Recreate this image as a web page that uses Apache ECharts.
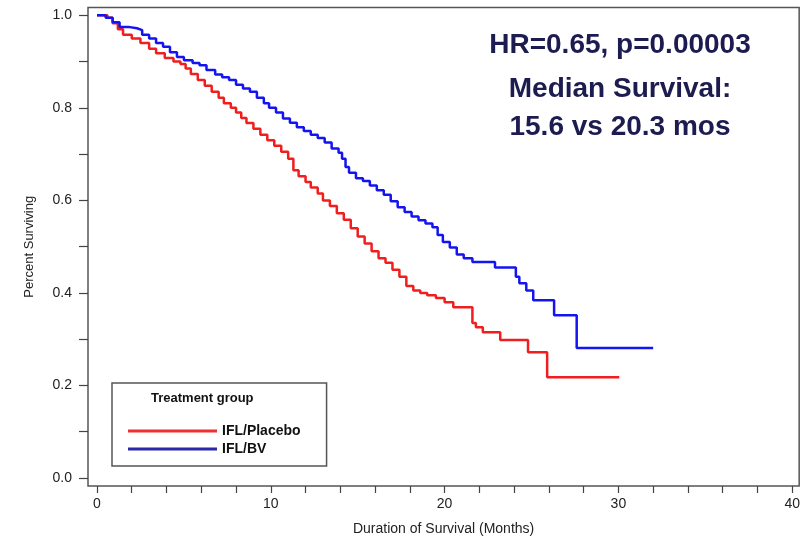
<!DOCTYPE html>
<html>
<head>
<meta charset="utf-8">
<script src="https://cdn.jsdelivr.net/npm/echarts@6/dist/echarts.min.js"></script>
<style>html,body{margin:0;padding:0;background:#fff}#c{width:803px;height:544px}</style>
</head>
<body>
<div id="c"></div>
<script>
var seriesNames = ['IFL/Placebo', 'IFL/BV'];
var xLabelValues = [0, 10, 20, 30, 40];
var xTickValues = [0, 2, 4, 6, 8, 10, 12, 14, 16, 18, 20, 22, 24, 26, 28, 30, 32, 34, 36, 38, 40];
var yLabelValues = [0.0, 0.2, 0.4, 0.6, 0.8, 1.0];
var yTickValues = [0.0, 0.1, 0.2, 0.3, 0.4, 0.5, 0.6, 0.7, 0.8, 0.9, 1.0];
var annotationLines = ['HR=0.65, p=0.00003', 'Median Survival:', '15.6 vs 20.3 mos'];
var legendTitle = 'Treatment group';

var placebo = [[0,1.0],[0.6,0.995],[0.9,0.983],[1.2,0.97],[1.5,0.958],[2.0,0.95],[2.5,0.94],[3.0,0.928],[3.4,0.918],[3.9,0.908],[4.4,0.9],[4.8,0.895],[5.1,0.885],[5.4,0.873],[5.8,0.86],[6.2,0.848],[6.6,0.835],[7.0,0.822],[7.3,0.81],[7.7,0.8],[8.0,0.79],[8.3,0.778],[8.6,0.767],[9.0,0.755],[9.4,0.742],[9.8,0.73],[10.2,0.718],[10.6,0.705],[11.0,0.69],[11.3,0.665],[11.6,0.652],[12.0,0.64],[12.3,0.628],[12.7,0.615],[13.0,0.6],[13.4,0.588],[13.8,0.572],[14.2,0.558],[14.6,0.54],[15.0,0.522],[15.4,0.507],[15.8,0.49],[16.2,0.475],[16.6,0.465],[17.0,0.45],[17.4,0.435],[17.8,0.415],[18.2,0.405],[18.6,0.4],[19.0,0.395],[19.5,0.389],[20.0,0.38],[20.5,0.369],[21.6,0.335],[21.8,0.326],[22.2,0.315],[23.2,0.298],[24.8,0.272],[25.9,0.218],[30.05,0.218]];

var bv = [[0,1.0],[0.5,0.995],[0.9,0.985],[1.3,0.975],[1.8,0.972],[2.3,0.968],[2.6,0.958],[3.0,0.95],[3.4,0.94],[3.8,0.932],[4.2,0.92],[4.6,0.91],[5.0,0.903],[5.5,0.897],[5.9,0.892],[6.3,0.882],[6.8,0.872],[7.2,0.866],[7.6,0.86],[8.0,0.85],[8.4,0.842],[8.8,0.835],[9.2,0.822],[9.6,0.81],[9.9,0.8],[10.3,0.79],[10.7,0.777],[11.1,0.768],[11.5,0.758],[11.9,0.75],[12.3,0.742],[12.7,0.735],[13.1,0.725],[13.5,0.712],[13.9,0.703],[14.1,0.69],[14.3,0.672],[14.5,0.66],[14.9,0.648],[15.3,0.642],[15.7,0.632],[16.1,0.622],[16.5,0.612],[16.9,0.598],[17.3,0.585],[17.7,0.575],[18.1,0.565],[18.5,0.557],[18.9,0.55],[19.3,0.542],[19.6,0.525],[19.9,0.51],[20.3,0.498],[20.7,0.483],[21.1,0.475],[21.6,0.467],[22.9,0.455],[24.1,0.435],[24.3,0.421],[24.7,0.405],[25.1,0.384],[26.3,0.352],[27.6,0.281],[32.0,0.281]];

var font = '"Liberation Sans", Arial, sans-serif';
var annotationCenters = [45.5, 89.5, 127.5];
var chart = echarts.init(document.getElementById('c'), null, {renderer: 'canvas'});
var graphics = [
  {type: 'text', left: 151, top: 392, z: 100,
    style: {text: legendTitle, font: 'bold 13px ' + font, fill: '#111'}}
];
annotationLines.forEach(function (t, i) {
  graphics.push({type: 'text', x: 620, y: annotationCenters[i], z: 100,
    style: {text: t, font: 'bold 28px ' + font, fill: '#1c1c50',
      textAlign: 'center', textVerticalAlign: 'middle'}});
});
var lineIcon = 'path://M0,0 L100,0 L100,3 L0,3 Z';
var option = {
  animation: false,
  backgroundColor: '#ffffff',
  grid: {left: 88, right: 3, top: 7.5, bottom: 58, containLabel: false,
    show: true, borderColor: '#555', borderWidth: 1.5, backgroundColor: 'transparent'},
  xAxis: {
    type: 'value', min: -0.517, max: 40.4,
    name: 'Duration of Survival (Months)', nameLocation: 'middle', nameGap: 36,
    nameTextStyle: {fontFamily: font, fontSize: 14, color: '#222'},
    axisLine: {show: false, onZero: false},
    axisTick: {show: true, length: 7, inside: false, customValues: xTickValues,
      lineStyle: {color: '#444', width: 1.2}},
    axisLabel: {fontFamily: font, fontSize: 14, color: '#222', margin: 11,
      customValues: xLabelValues},
    splitLine: {show: false}
  },
  yAxis: {
    type: 'value', min: -0.0173, max: 1.0169,
    name: 'Percent Surviving', nameLocation: 'middle', nameGap: 52,
    nameTextStyle: {fontFamily: font, fontSize: 13, color: '#222'},
    axisLine: {show: false, onZero: false},
    axisTick: {show: true, length: 9, inside: false, customValues: yTickValues,
      lineStyle: {color: '#444', width: 1.2}},
    axisLabel: {fontFamily: font, fontSize: 14, color: '#222', margin: 16,
      customValues: yLabelValues,
      formatter: function (v) { return v.toFixed(1); }},
    splitLine: {show: false}
  },
  legend: {
    left: 112, top: 383, orient: 'vertical',
    padding: [40, 26, 9, 16],
    itemWidth: 89, itemHeight: 3, itemGap: 2,
    icon: lineIcon, symbolKeepAspect: false,
    borderColor: '#555', borderWidth: 1.5, backgroundColor: '#fff',
    textStyle: {fontFamily: font, fontSize: 14, lineHeight: 16, fontWeight: 'bold', color: '#111'},
    data: [
      {name: seriesNames[0], itemStyle: {color: '#ee3030'}},
      {name: seriesNames[1], itemStyle: {color: '#2828a8'}}
    ]
  },
  graphic: graphics,
  series: [
    {name: seriesNames[0], type: 'line', step: 'end', data: placebo, symbol: 'none',
      showSymbol: false, lineStyle: {color: '#f01e1e', width: 2.5}, itemStyle: {color: '#f01e1e'}, z: 3},
    {name: seriesNames[1], type: 'line', step: 'end', data: bv, symbol: 'none',
      showSymbol: false, lineStyle: {color: '#1414f0', width: 2.5}, itemStyle: {color: '#1414f0'}, z: 4}
  ]
};
chart.setOption(option);
</script>
</body>
</html>
